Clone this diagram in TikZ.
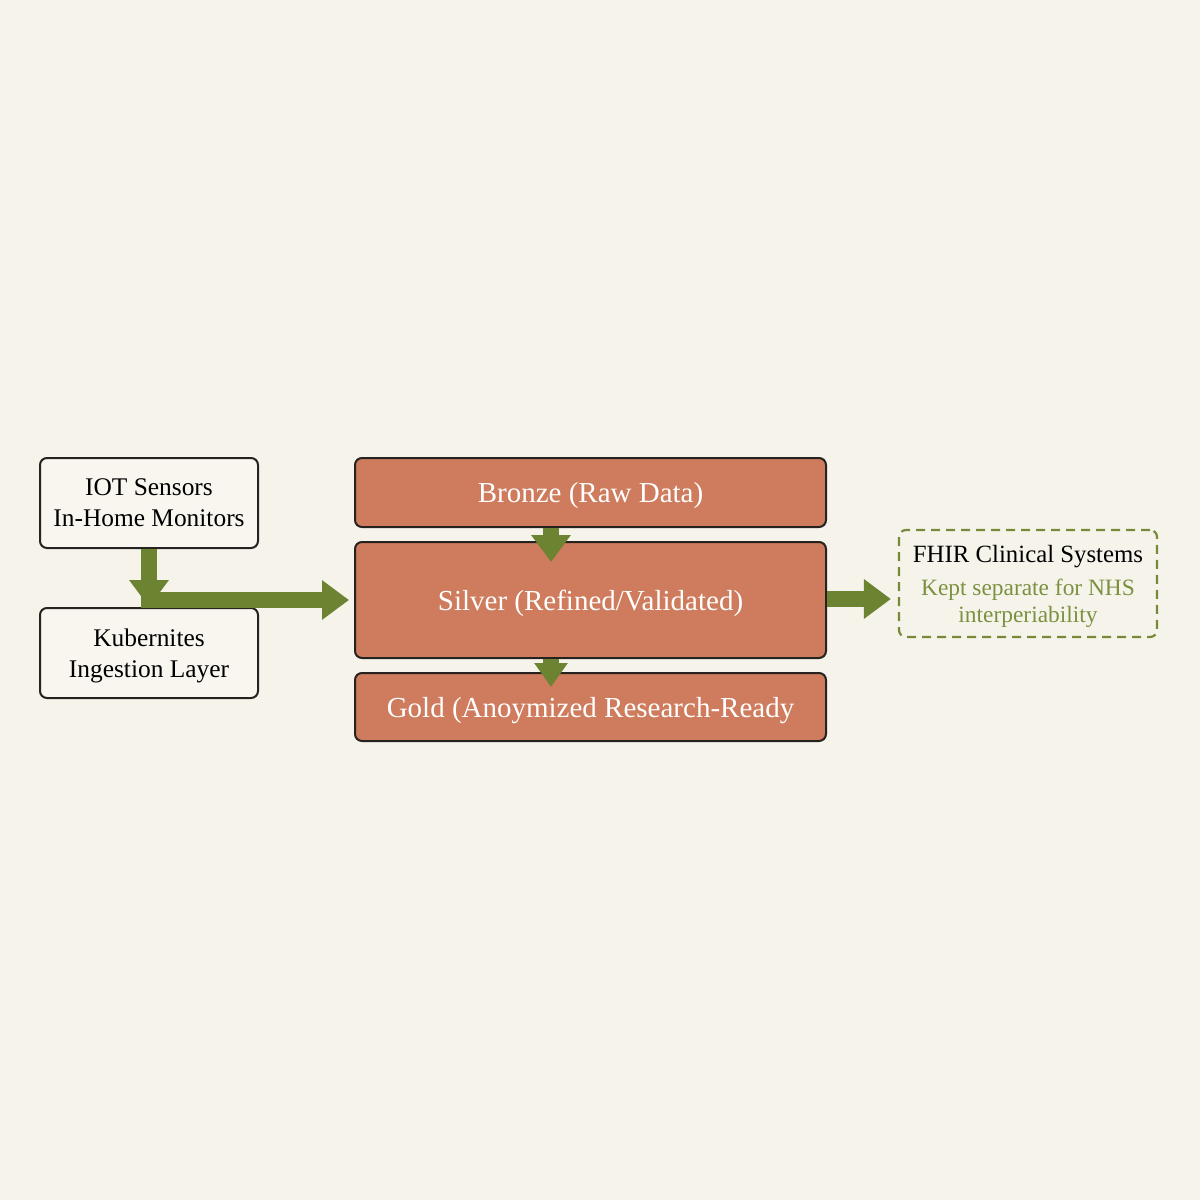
\documentclass[tikz,border=0pt]{standalone}
\usepackage{fontspec}
\setmainfont{Liberation Serif}
\usetikzlibrary{arrows.meta,calc}
\definecolor{bgcol}{HTML}{F6F4EA}
\definecolor{boxfill}{HTML}{F8F6EE}
\definecolor{orangefill}{HTML}{CE7C5D}
\definecolor{arrowgreen}{HTML}{6C8331}
\definecolor{dashgreen}{HTML}{77893A}
\definecolor{textgreen}{HTML}{7B9142}
\definecolor{edge}{HTML}{262220}
\tikzset{
  lightbox/.style={draw=edge, line width=1pt, fill=boxfill, rounded corners=3.5pt,
    minimum width=109pt, minimum height=45pt, align=center, inner sep=0pt,
    text depth=0pt, font=\fontsize{12.7}{15.5}\selectfont, text=black},
  layerbox/.style={draw=edge, line width=1pt, fill=orangefill, rounded corners=3.5pt,
    minimum width=235.5pt, inner sep=0pt, text=white, text depth=0pt,
    font=\fontsize{14.5}{17}\selectfont},
  dashbox/.style={draw=dashgreen, line width=1.1pt, dash pattern=on 4.5pt off 3pt,
    rounded corners=3.5pt, minimum width=129pt, minimum height=53.5pt, inner sep=0pt},
  bigarrow/.style={draw=arrowgreen, line width=8pt,
    -{Triangle[width=19pt,length=13.5pt]}},
  smallarrow/.style={draw=arrowgreen, line width=8pt,
    -{Triangle[width=16pt,length=12pt]}},
}
\begin{document}
\begin{tikzpicture}[x=0.5pt,y=-0.5pt]
\fill[bgcol] (0,0) rectangle (1200,1200);
\useasboundingbox (0,0) rectangle (1200,1200);

% left boxes
\node[lightbox] (iot) at (149,503) {IOT Sensors\\In-Home Monitors};
\node[lightbox] (kub) at (149,653) {Kubernites\\Ingestion Layer};

% medallion layers
\node[layerbox, minimum height=34.5pt] (bronze) at (590.5,492.5) {Bronze (Raw Data)};
\node[layerbox, minimum height=58pt] (silver) at (590.5,600) {Silver (Refined/Validated)};
\node[layerbox, minimum height=34pt] (gold) at (590.5,707) {Gold (Anoymized Research-Ready};

% FHIR box
\node[dashbox] (fhir) at (1028,583.5) {};
\node[font=\fontsize{12.4}{14}\selectfont, text=black, inner sep=0pt] (fhirtitle) at (1028,557) {FHIR Clinical Systems};
\node[font=\fontsize{11.7}{13.5}\selectfont, text=textgreen, align=center, inner sep=0pt] (fhirsub) at (1028,603) {Kept separate for NHS\\interperiability};

% connectors
\coordinate (col) at (551,0);
\draw[bigarrow] (iot.south) -- (kub.north);
\draw[bigarrow, shorten <=-4pt, shorten >=2.5pt] (iot.south |- silver.west) -- (silver.west);
\draw[bigarrow] (bronze.south -| col) -- ($(silver.north -| col)+(0,21)$);
\draw[smallarrow] (silver.south -| col) -- ($(gold.north -| col)+(0,15)$);
\draw[bigarrow, shorten >=3.5pt] ($(silver.east)+(0,-1)$) -- ($(silver.east -| fhir.west)+(0,-1)$);
\end{tikzpicture}
\end{document}
